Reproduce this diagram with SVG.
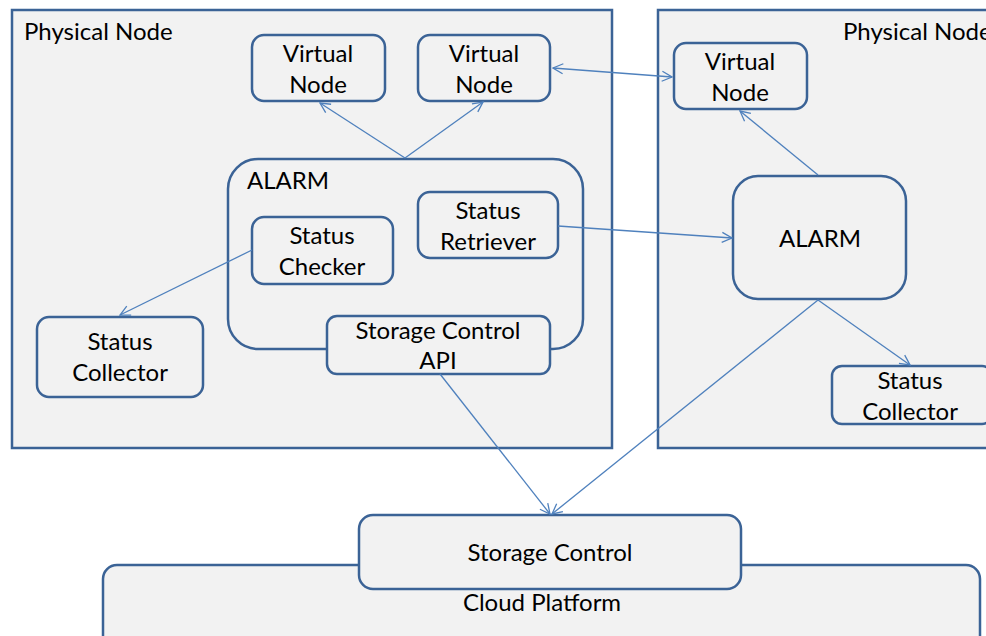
<svg xmlns="http://www.w3.org/2000/svg" width="986" height="636" viewBox="0 0 986 636">
<defs>
<style>
.box{fill:#f2f2f2;stroke:#3b6396;stroke-width:2.5}
.t{font-family:Lato,"Liberation Sans",sans-serif;font-size:24px;fill:#000}
.c{text-anchor:middle}
.ln{stroke:#4f81bd;stroke-width:1.3;fill:none}
</style>
<marker id="ah" viewBox="0 0 12 12" refX="11" refY="6" markerWidth="12" markerHeight="12" markerUnits="userSpaceOnUse" orient="auto-start-reverse">
<path d="M1,1 L11,6 L1,11" fill="none" stroke="#4f81bd" stroke-width="1.3"/>
</marker>
</defs>
<rect width="986" height="636" fill="#fff"/>
<g id="pn1"><rect class="box" x="12" y="10" width="600" height="438"/><text class="t" x="24" y="40">Physical Node</text></g>
<g id="pn2"><rect class="box" x="658" y="10" width="340" height="438"/><text class="t" x="843" y="40">Physical Node</text></g>
<g id="cloud"><rect class="box" x="103" y="565" width="877" height="90" rx="14"/><text class="t c" x="542" y="611">Cloud Platform</text></g>
<g id="storage"><rect class="box" x="359" y="515" width="382" height="74" rx="14"/><text class="t c" x="550" y="561">Storage Control</text></g>
<g id="vn1"><rect class="box" x="252" y="35" width="133" height="66" rx="12"/><text class="t c" x="318" y="62">Virtual</text><text class="t c" x="318" y="93">Node</text></g>
<g id="vn2"><rect class="box" x="418" y="35" width="132" height="66" rx="12"/><text class="t c" x="484" y="62">Virtual</text><text class="t c" x="484" y="93">Node</text></g>
<g id="vn3"><rect class="box" x="674" y="43" width="133" height="66" rx="12"/><text class="t c" x="740" y="70">Virtual</text><text class="t c" x="740" y="101">Node</text></g>
<g id="alarm1"><rect class="box" x="228" y="159" width="355" height="190" rx="30"/><text class="t" x="247" y="189">ALARM</text></g>
<g id="checker"><rect class="box" x="252" y="217" width="141" height="67" rx="12"/><text class="t c" x="322" y="244">Status</text><text class="t c" x="322" y="275">Checker</text></g>
<g id="retriever"><rect class="box" x="418" y="192" width="140" height="66" rx="12"/><text class="t c" x="488" y="219">Status</text><text class="t c" x="488" y="250">Retriever</text></g>
<g id="api"><rect class="box" x="327" y="316" width="223" height="58" rx="10"/><text class="t c" x="438" y="339">Storage Control</text><text class="t c" x="438" y="369">API</text></g>
<g id="collector1"><rect class="box" x="37" y="317" width="166" height="80" rx="12"/><text class="t c" x="120" y="350">Status</text><text class="t c" x="120" y="381">Collector</text></g>
<g id="alarm2"><rect class="box" x="733" y="176" width="173" height="123" rx="25"/><text class="t c" x="820" y="247">ALARM</text></g>
<g id="collector2"><rect class="box" x="832" y="366" width="160" height="58" rx="10"/><text class="t c" x="910" y="389">Status</text><text class="t c" x="910" y="420">Collector</text></g>
<g id="connectors">
<line class="ln" x1="405" y1="158" x2="320" y2="103" marker-end="url(#ah)"/>
<line class="ln" x1="405" y1="158" x2="483" y2="102" marker-end="url(#ah)"/>
<line class="ln" x1="553" y1="68" x2="672" y2="77" marker-start="url(#ah)" marker-end="url(#ah)"/>
<line class="ln" x1="558" y1="226" x2="732" y2="238" marker-end="url(#ah)"/>
<line class="ln" x1="818" y1="175" x2="740" y2="111" marker-end="url(#ah)"/>
<line class="ln" x1="252" y1="250" x2="120" y2="315" marker-end="url(#ah)"/>
<line class="ln" x1="440" y1="374" x2="550" y2="514" marker-end="url(#ah)"/>
<line class="ln" x1="818" y1="300" x2="552" y2="514" marker-end="url(#ah)"/>
<line class="ln" x1="818" y1="300" x2="910" y2="365" marker-end="url(#ah)"/>
</g>
</svg>
